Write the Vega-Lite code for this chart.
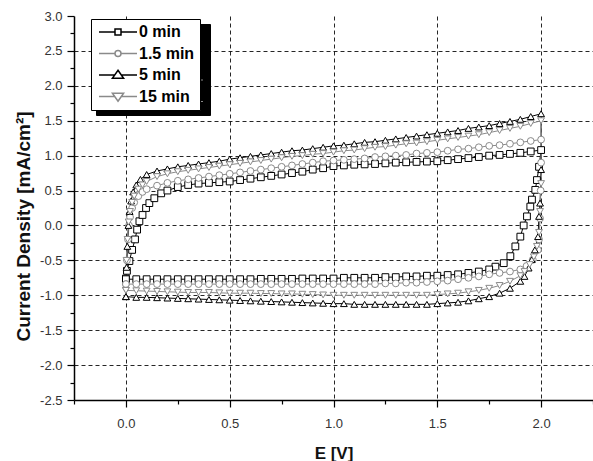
{
"$schema": "https://vega.github.io/schema/vega-lite/v6.json",
"width": 519, "height": 384,
"autosize": "none",
"padding": {"left": 74, "top": 16, "right": 0, "bottom": 61},
"background": "white",
"config": {"view": {"stroke": null}, "font": "Liberation Sans"},
"data": {"values": [
{"s":"0 min","E":0,"J":-0.76},{"s":"0 min","E":0.005,"J":-0.65},{"s":"0 min","E":0.017,"J":-0.51},{"s":"0 min","E":0.03,"J":-0.35},{"s":"0 min","E":0.044,"J":-0.2},{"s":"0 min","E":0.054,"J":-0.06},{"s":"0 min","E":0.065,"J":0.06},{"s":"0 min","E":0.08,"J":0.15},{"s":"0 min","E":0.097,"J":0.25},{"s":"0 min","E":0.113,"J":0.32},{"s":"0 min","E":0.137,"J":0.39},{"s":"0 min","E":0.17,"J":0.46},{"s":"0 min","E":0.2,"J":0.5},{"s":"0 min","E":0.25,"J":0.55},{"s":"0 min","E":0.3,"J":0.58},{"s":"0 min","E":0.35,"J":0.6},{"s":"0 min","E":0.4,"J":0.61},{"s":"0 min","E":0.45,"J":0.62},{"s":"0 min","E":0.5,"J":0.63},{"s":"0 min","E":0.55,"J":0.65},{"s":"0 min","E":0.6,"J":0.67},{"s":"0 min","E":0.65,"J":0.69},{"s":"0 min","E":0.7,"J":0.71},{"s":"0 min","E":0.75,"J":0.73},{"s":"0 min","E":0.8,"J":0.75},{"s":"0 min","E":0.85,"J":0.77},{"s":"0 min","E":0.9,"J":0.8},{"s":"0 min","E":0.95,"J":0.82},{"s":"0 min","E":1.0,"J":0.85},{"s":"0 min","E":1.05,"J":0.86},{"s":"0 min","E":1.1,"J":0.87},{"s":"0 min","E":1.15,"J":0.875},{"s":"0 min","E":1.2,"J":0.88},{"s":"0 min","E":1.25,"J":0.89},{"s":"0 min","E":1.3,"J":0.9},{"s":"0 min","E":1.35,"J":0.905},{"s":"0 min","E":1.4,"J":0.91},{"s":"0 min","E":1.45,"J":0.915},{"s":"0 min","E":1.5,"J":0.92},{"s":"0 min","E":1.55,"J":0.935},{"s":"0 min","E":1.6,"J":0.95},{"s":"0 min","E":1.65,"J":0.965},{"s":"0 min","E":1.7,"J":0.98},{"s":"0 min","E":1.75,"J":1.0},{"s":"0 min","E":1.8,"J":1.01},{"s":"0 min","E":1.85,"J":1.025},{"s":"0 min","E":1.9,"J":1.04},{"s":"0 min","E":1.95,"J":1.06},{"s":"0 min","E":2.0,"J":1.08},
{"s":"0 min","E":1.99,"J":0.84},{"s":"0 min","E":1.98,"J":0.65},{"s":"0 min","E":1.972,"J":0.51},{"s":"0 min","E":1.956,"J":0.37},{"s":"0 min","E":1.948,"J":0.27},{"s":"0 min","E":1.932,"J":0.13},{"s":"0 min","E":1.916,"J":0.0},{"s":"0 min","E":1.9,"J":-0.16},{"s":"0 min","E":1.876,"J":-0.3},{"s":"0 min","E":1.852,"J":-0.44},{"s":"0 min","E":1.82,"J":-0.54},{"s":"0 min","E":1.78,"J":-0.59},{"s":"0 min","E":1.75,"J":-0.63},{"s":"0 min","E":1.7,"J":-0.66},{"s":"0 min","E":1.65,"J":-0.68},{"s":"0 min","E":1.6,"J":-0.7},{"s":"0 min","E":1.55,"J":-0.71},{"s":"0 min","E":1.5,"J":-0.72},{"s":"0 min","E":1.45,"J":-0.72},{"s":"0 min","E":1.4,"J":-0.73},{"s":"0 min","E":1.35,"J":-0.73},{"s":"0 min","E":1.3,"J":-0.74},{"s":"0 min","E":1.25,"J":-0.74},{"s":"0 min","E":1.2,"J":-0.75},{"s":"0 min","E":1.15,"J":-0.75},{"s":"0 min","E":1.1,"J":-0.75},{"s":"0 min","E":1.05,"J":-0.75},{"s":"0 min","E":1.0,"J":-0.76},{"s":"0 min","E":0.95,"J":-0.76},{"s":"0 min","E":0.9,"J":-0.76},{"s":"0 min","E":0.85,"J":-0.76},{"s":"0 min","E":0.8,"J":-0.765},{"s":"0 min","E":0.75,"J":-0.765},{"s":"0 min","E":0.7,"J":-0.765},{"s":"0 min","E":0.65,"J":-0.765},{"s":"0 min","E":0.6,"J":-0.77},{"s":"0 min","E":0.55,"J":-0.77},{"s":"0 min","E":0.5,"J":-0.77},{"s":"0 min","E":0.45,"J":-0.77},{"s":"0 min","E":0.4,"J":-0.77},{"s":"0 min","E":0.35,"J":-0.77},{"s":"0 min","E":0.3,"J":-0.77},{"s":"0 min","E":0.25,"J":-0.77},{"s":"0 min","E":0.2,"J":-0.77},{"s":"0 min","E":0.15,"J":-0.77},{"s":"0 min","E":0.1,"J":-0.77},{"s":"0 min","E":0.05,"J":-0.77},{"s":"0 min","E":0.0,"J":-0.77},
{"s":"1.5 min","E":0,"J":-0.84},{"s":"1.5 min","E":0.005,"J":-0.5},{"s":"1.5 min","E":0.01,"J":-0.2},{"s":"1.5 min","E":0.015,"J":0.0},{"s":"1.5 min","E":0.02,"J":0.12},{"s":"1.5 min","E":0.03,"J":0.25},{"s":"1.5 min","E":0.04,"J":0.33},{"s":"1.5 min","E":0.06,"J":0.42},{"s":"1.5 min","E":0.08,"J":0.48},{"s":"1.5 min","E":0.1,"J":0.52},{"s":"1.5 min","E":0.15,"J":0.57},{"s":"1.5 min","E":0.2,"J":0.61},{"s":"1.5 min","E":0.25,"J":0.64},{"s":"1.5 min","E":0.3,"J":0.66},{"s":"1.5 min","E":0.35,"J":0.68},{"s":"1.5 min","E":0.4,"J":0.7},{"s":"1.5 min","E":0.45,"J":0.72},{"s":"1.5 min","E":0.5,"J":0.74},{"s":"1.5 min","E":0.55,"J":0.76},{"s":"1.5 min","E":0.6,"J":0.78},{"s":"1.5 min","E":0.65,"J":0.8},{"s":"1.5 min","E":0.7,"J":0.82},{"s":"1.5 min","E":0.75,"J":0.84},{"s":"1.5 min","E":0.8,"J":0.86},{"s":"1.5 min","E":0.85,"J":0.88},{"s":"1.5 min","E":0.9,"J":0.9},{"s":"1.5 min","E":0.95,"J":0.92},{"s":"1.5 min","E":1.0,"J":0.93},{"s":"1.5 min","E":1.05,"J":0.94},{"s":"1.5 min","E":1.1,"J":0.95},{"s":"1.5 min","E":1.15,"J":0.96},{"s":"1.5 min","E":1.2,"J":0.98},{"s":"1.5 min","E":1.25,"J":0.99},{"s":"1.5 min","E":1.3,"J":1.0},{"s":"1.5 min","E":1.35,"J":1.01},{"s":"1.5 min","E":1.4,"J":1.03},{"s":"1.5 min","E":1.45,"J":1.04},{"s":"1.5 min","E":1.5,"J":1.05},{"s":"1.5 min","E":1.55,"J":1.07},{"s":"1.5 min","E":1.6,"J":1.09},{"s":"1.5 min","E":1.65,"J":1.1},{"s":"1.5 min","E":1.7,"J":1.12},{"s":"1.5 min","E":1.75,"J":1.14},{"s":"1.5 min","E":1.8,"J":1.15},{"s":"1.5 min","E":1.85,"J":1.17},{"s":"1.5 min","E":1.9,"J":1.19},{"s":"1.5 min","E":1.95,"J":1.21},{"s":"1.5 min","E":2.0,"J":1.23},
{"s":"1.5 min","E":2.0,"J":0.9},{"s":"1.5 min","E":1.998,"J":0.5},{"s":"1.5 min","E":1.995,"J":0.1},{"s":"1.5 min","E":1.99,"J":-0.2},{"s":"1.5 min","E":1.985,"J":-0.35},{"s":"1.5 min","E":1.96,"J":-0.49},{"s":"1.5 min","E":1.93,"J":-0.58},{"s":"1.5 min","E":1.9,"J":-0.63},{"s":"1.5 min","E":1.85,"J":-0.66},{"s":"1.5 min","E":1.8,"J":-0.68},{"s":"1.5 min","E":1.75,"J":-0.7},{"s":"1.5 min","E":1.7,"J":-0.73},{"s":"1.5 min","E":1.65,"J":-0.75},{"s":"1.5 min","E":1.6,"J":-0.77},{"s":"1.5 min","E":1.55,"J":-0.79},{"s":"1.5 min","E":1.5,"J":-0.8},{"s":"1.5 min","E":1.45,"J":-0.81},{"s":"1.5 min","E":1.4,"J":-0.82},{"s":"1.5 min","E":1.35,"J":-0.82},{"s":"1.5 min","E":1.3,"J":-0.83},{"s":"1.5 min","E":1.25,"J":-0.83},{"s":"1.5 min","E":1.2,"J":-0.84},{"s":"1.5 min","E":1.15,"J":-0.84},{"s":"1.5 min","E":1.1,"J":-0.84},{"s":"1.5 min","E":1.05,"J":-0.84},{"s":"1.5 min","E":1.0,"J":-0.84},{"s":"1.5 min","E":0.95,"J":-0.84},{"s":"1.5 min","E":0.9,"J":-0.84},{"s":"1.5 min","E":0.85,"J":-0.84},{"s":"1.5 min","E":0.8,"J":-0.84},{"s":"1.5 min","E":0.75,"J":-0.84},{"s":"1.5 min","E":0.7,"J":-0.84},{"s":"1.5 min","E":0.65,"J":-0.84},{"s":"1.5 min","E":0.6,"J":-0.84},{"s":"1.5 min","E":0.55,"J":-0.84},{"s":"1.5 min","E":0.5,"J":-0.84},{"s":"1.5 min","E":0.45,"J":-0.84},{"s":"1.5 min","E":0.4,"J":-0.84},{"s":"1.5 min","E":0.35,"J":-0.84},{"s":"1.5 min","E":0.3,"J":-0.84},{"s":"1.5 min","E":0.25,"J":-0.84},{"s":"1.5 min","E":0.2,"J":-0.84},{"s":"1.5 min","E":0.15,"J":-0.84},{"s":"1.5 min","E":0.1,"J":-0.84},{"s":"1.5 min","E":0.05,"J":-0.84},{"s":"1.5 min","E":0.0,"J":-0.84},
{"s":"5 min","E":0,"J":-1.02},{"s":"5 min","E":0.003,"J":-0.6},{"s":"5 min","E":0.007,"J":-0.3},{"s":"5 min","E":0.012,"J":0.0},{"s":"5 min","E":0.018,"J":0.2},{"s":"5 min","E":0.025,"J":0.35},{"s":"5 min","E":0.035,"J":0.48},{"s":"5 min","E":0.05,"J":0.58},{"s":"5 min","E":0.07,"J":0.66},{"s":"5 min","E":0.1,"J":0.73},{"s":"5 min","E":0.15,"J":0.78},{"s":"5 min","E":0.2,"J":0.81},{"s":"5 min","E":0.25,"J":0.84},{"s":"5 min","E":0.3,"J":0.86},{"s":"5 min","E":0.35,"J":0.88},{"s":"5 min","E":0.4,"J":0.9},{"s":"5 min","E":0.45,"J":0.92},{"s":"5 min","E":0.5,"J":0.95},{"s":"5 min","E":0.55,"J":0.97},{"s":"5 min","E":0.6,"J":0.99},{"s":"5 min","E":0.65,"J":1.01},{"s":"5 min","E":0.7,"J":1.03},{"s":"5 min","E":0.75,"J":1.05},{"s":"5 min","E":0.8,"J":1.07},{"s":"5 min","E":0.85,"J":1.08},{"s":"5 min","E":0.9,"J":1.1},{"s":"5 min","E":0.95,"J":1.12},{"s":"5 min","E":1.0,"J":1.14},{"s":"5 min","E":1.05,"J":1.15},{"s":"5 min","E":1.1,"J":1.17},{"s":"5 min","E":1.15,"J":1.19},{"s":"5 min","E":1.2,"J":1.2},{"s":"5 min","E":1.25,"J":1.22},{"s":"5 min","E":1.3,"J":1.24},{"s":"5 min","E":1.35,"J":1.26},{"s":"5 min","E":1.4,"J":1.28},{"s":"5 min","E":1.45,"J":1.3},{"s":"5 min","E":1.5,"J":1.32},{"s":"5 min","E":1.55,"J":1.34},{"s":"5 min","E":1.6,"J":1.36},{"s":"5 min","E":1.65,"J":1.39},{"s":"5 min","E":1.7,"J":1.41},{"s":"5 min","E":1.75,"J":1.43},{"s":"5 min","E":1.8,"J":1.46},{"s":"5 min","E":1.85,"J":1.49},{"s":"5 min","E":1.9,"J":1.52},{"s":"5 min","E":1.95,"J":1.56},{"s":"5 min","E":2.0,"J":1.6},
{"s":"5 min","E":2.0,"J":0.8},{"s":"5 min","E":1.995,"J":0.32},{"s":"5 min","E":1.99,"J":0.13},{"s":"5 min","E":1.985,"J":-0.16},{"s":"5 min","E":1.97,"J":-0.35},{"s":"5 min","E":1.955,"J":-0.49},{"s":"5 min","E":1.94,"J":-0.61},{"s":"5 min","E":1.92,"J":-0.73},{"s":"5 min","E":1.9,"J":-0.8},{"s":"5 min","E":1.85,"J":-0.9},{"s":"5 min","E":1.8,"J":-0.97},{"s":"5 min","E":1.75,"J":-1.02},{"s":"5 min","E":1.7,"J":-1.05},{"s":"5 min","E":1.65,"J":-1.08},{"s":"5 min","E":1.6,"J":-1.1},{"s":"5 min","E":1.55,"J":-1.11},{"s":"5 min","E":1.5,"J":-1.12},{"s":"5 min","E":1.45,"J":-1.13},{"s":"5 min","E":1.4,"J":-1.13},{"s":"5 min","E":1.35,"J":-1.13},{"s":"5 min","E":1.3,"J":-1.13},{"s":"5 min","E":1.25,"J":-1.13},{"s":"5 min","E":1.2,"J":-1.13},{"s":"5 min","E":1.15,"J":-1.13},{"s":"5 min","E":1.1,"J":-1.13},{"s":"5 min","E":1.05,"J":-1.12},{"s":"5 min","E":1.0,"J":-1.12},{"s":"5 min","E":0.95,"J":-1.115},{"s":"5 min","E":0.9,"J":-1.11},{"s":"5 min","E":0.85,"J":-1.105},{"s":"5 min","E":0.8,"J":-1.1},{"s":"5 min","E":0.75,"J":-1.095},{"s":"5 min","E":0.7,"J":-1.09},{"s":"5 min","E":0.65,"J":-1.085},{"s":"5 min","E":0.6,"J":-1.08},{"s":"5 min","E":0.55,"J":-1.075},{"s":"5 min","E":0.5,"J":-1.07},{"s":"5 min","E":0.45,"J":-1.065},{"s":"5 min","E":0.4,"J":-1.06},{"s":"5 min","E":0.35,"J":-1.055},{"s":"5 min","E":0.3,"J":-1.05},{"s":"5 min","E":0.25,"J":-1.045},{"s":"5 min","E":0.2,"J":-1.04},{"s":"5 min","E":0.15,"J":-1.035},{"s":"5 min","E":0.1,"J":-1.03},{"s":"5 min","E":0.05,"J":-1.03},{"s":"5 min","E":0.0,"J":-1.02},
{"s":"15 min","E":0,"J":-0.93},{"s":"15 min","E":0.003,"J":-0.5},{"s":"15 min","E":0.008,"J":-0.2},{"s":"15 min","E":0.013,"J":0.05},{"s":"15 min","E":0.02,"J":0.2},{"s":"15 min","E":0.03,"J":0.33},{"s":"15 min","E":0.04,"J":0.42},{"s":"15 min","E":0.06,"J":0.52},{"s":"15 min","E":0.08,"J":0.58},{"s":"15 min","E":0.1,"J":0.63},{"s":"15 min","E":0.15,"J":0.7},{"s":"15 min","E":0.2,"J":0.74},{"s":"15 min","E":0.25,"J":0.77},{"s":"15 min","E":0.3,"J":0.79},{"s":"15 min","E":0.35,"J":0.81},{"s":"15 min","E":0.4,"J":0.83},{"s":"15 min","E":0.45,"J":0.85},{"s":"15 min","E":0.5,"J":0.87},{"s":"15 min","E":0.55,"J":0.89},{"s":"15 min","E":0.6,"J":0.91},{"s":"15 min","E":0.65,"J":0.93},{"s":"15 min","E":0.7,"J":0.95},{"s":"15 min","E":0.75,"J":0.97},{"s":"15 min","E":0.8,"J":0.99},{"s":"15 min","E":0.85,"J":1.0},{"s":"15 min","E":0.9,"J":1.02},{"s":"15 min","E":0.95,"J":1.03},{"s":"15 min","E":1.0,"J":1.05},{"s":"15 min","E":1.05,"J":1.07},{"s":"15 min","E":1.1,"J":1.08},{"s":"15 min","E":1.15,"J":1.1},{"s":"15 min","E":1.2,"J":1.12},{"s":"15 min","E":1.25,"J":1.13},{"s":"15 min","E":1.3,"J":1.15},{"s":"15 min","E":1.35,"J":1.17},{"s":"15 min","E":1.4,"J":1.18},{"s":"15 min","E":1.45,"J":1.2},{"s":"15 min","E":1.5,"J":1.22},{"s":"15 min","E":1.55,"J":1.24},{"s":"15 min","E":1.6,"J":1.26},{"s":"15 min","E":1.65,"J":1.28},{"s":"15 min","E":1.7,"J":1.3},{"s":"15 min","E":1.75,"J":1.33},{"s":"15 min","E":1.8,"J":1.36},{"s":"15 min","E":1.85,"J":1.39},{"s":"15 min","E":1.9,"J":1.42},{"s":"15 min","E":1.95,"J":1.46},{"s":"15 min","E":2.0,"J":1.5},
{"s":"15 min","E":2.0,"J":0.6},{"s":"15 min","E":1.995,"J":0.2},{"s":"15 min","E":1.99,"J":-0.1},{"s":"15 min","E":1.98,"J":-0.3},{"s":"15 min","E":1.965,"J":-0.45},{"s":"15 min","E":1.945,"J":-0.56},{"s":"15 min","E":1.92,"J":-0.66},{"s":"15 min","E":1.9,"J":-0.72},{"s":"15 min","E":1.85,"J":-0.8},{"s":"15 min","E":1.8,"J":-0.86},{"s":"15 min","E":1.75,"J":-0.9},{"s":"15 min","E":1.7,"J":-0.93},{"s":"15 min","E":1.65,"J":-0.95},{"s":"15 min","E":1.6,"J":-0.97},{"s":"15 min","E":1.55,"J":-0.98},{"s":"15 min","E":1.5,"J":-0.99},{"s":"15 min","E":1.45,"J":-1.0},{"s":"15 min","E":1.4,"J":-1.0},{"s":"15 min","E":1.35,"J":-1.0},{"s":"15 min","E":1.3,"J":-1.0},{"s":"15 min","E":1.25,"J":-1.0},{"s":"15 min","E":1.2,"J":-1.0},{"s":"15 min","E":1.15,"J":-1.0},{"s":"15 min","E":1.1,"J":-1.0},{"s":"15 min","E":1.05,"J":-1.0},{"s":"15 min","E":1.0,"J":-1.0},{"s":"15 min","E":0.95,"J":-0.995},{"s":"15 min","E":0.9,"J":-0.99},{"s":"15 min","E":0.85,"J":-0.985},{"s":"15 min","E":0.8,"J":-0.98},{"s":"15 min","E":0.75,"J":-0.98},{"s":"15 min","E":0.7,"J":-0.975},{"s":"15 min","E":0.65,"J":-0.975},{"s":"15 min","E":0.6,"J":-0.97},{"s":"15 min","E":0.55,"J":-0.97},{"s":"15 min","E":0.5,"J":-0.97},{"s":"15 min","E":0.45,"J":-0.965},{"s":"15 min","E":0.4,"J":-0.96},{"s":"15 min","E":0.35,"J":-0.96},{"s":"15 min","E":0.3,"J":-0.96},{"s":"15 min","E":0.25,"J":-0.955},{"s":"15 min","E":0.2,"J":-0.95},{"s":"15 min","E":0.15,"J":-0.945},{"s":"15 min","E":0.1,"J":-0.94},{"s":"15 min","E":0.05,"J":-0.935},{"s":"15 min","E":0.0,"J":-0.93}
]},
"encoding": {
  "x": {"field": "E", "type": "quantitative",
    "scale": {"domain": [-0.25, 2.25], "nice": false, "zero": false},
    "axis": {"title": "E [V]", "values": [-0.25,0,0.25,0.5,0.75,1,1.25,1.5,1.75,2,2.25],
      "labelExpr": "abs(datum.value*2 - round(datum.value*2)) < 0.001 ? replace(format(datum.value, '.1f'), '\u2212', '-') : ''",
      "labelOverlap": false, "labelFlush": false,
      "grid": true, "gridColor": "#000", "gridDash": [4, 3], "gridWidth": 1,
      "gridOpacity": {"condition": {"test": "abs(datum.value*2 - round(datum.value*2)) < 0.001", "value": 0.85}, "value": 0},
      "tickSize": {"condition": {"test": "abs(datum.value*2 - round(datum.value*2)) < 0.001", "value": 7}, "value": 4},
      "tickColor": "#000", "tickWidth": 1.2, "domainColor": "#000", "domainWidth": 1.5,
      "labelFontSize": 13, "labelColor": "#333", "labelPadding": 10,
      "titleFontSize": 17, "titleFontWeight": "bold", "titleColor": "#111", "titlePadding": 15}},
  "y": {"field": "J", "type": "quantitative",
    "scale": {"domain": [-2.5, 3.0], "nice": false, "zero": false},
    "axis": {"title": "Current Density [mA/cm²]",
      "values": [-2.5,-2.25,-2,-1.75,-1.5,-1.25,-1,-0.75,-0.5,-0.25,0,0.25,0.5,0.75,1,1.25,1.5,1.75,2,2.25,2.5,2.75,3],
      "labelExpr": "abs(datum.value*2 - round(datum.value*2)) < 0.001 ? replace(format(datum.value, '.1f'), '\u2212', '-') : ''",
      "labelOverlap": false, "labelFlush": false,
      "grid": true, "gridColor": "#000", "gridDash": [4, 3], "gridWidth": 1,
      "gridOpacity": {"condition": {"test": "abs(datum.value*2 - round(datum.value*2)) < 0.001 && datum.value > -2.4 && datum.value < 2.9", "value": 0.85}, "value": 0},
      "tickSize": {"condition": {"test": "abs(datum.value*2 - round(datum.value*2)) < 0.001", "value": 7}, "value": 4},
      "tickColor": "#000", "tickWidth": 1.2, "domainColor": "#000", "domainWidth": 1.5,
      "labelFontSize": 13, "labelColor": "#333", "labelPadding": 5,
      "titleFontSize": 19, "titleFontWeight": "bold", "titleColor": "#111", "titlePadding": 6, "titleY": 210}}
},
"resolve": {"scale": {"stroke": "independent", "shape": "independent"}},
"layer": [
  {"mark": {"type": "line", "strokeWidth": 1},
   "encoding": {
     "color": {"field": "s", "type": "nominal", "scale": {"domain": ["0 min","5 min","1.5 min","15 min"], "range": ["#000000","#000000","#8a8a8a","#8a8a8a"]},
       "legend": {"orient": "none", "legendX": 22, "legendY": 8, "title": null, "padding": 5,
         "strokeColor": "#000", "fillColor": "#000",
         "labelFont": "Liberation Sans", "labelFontSize": 16, "labelFontWeight": "bold", "labelColor": "#000",
         "labelExpr": "''",
         "symbolType": "M-4.75,0H20", "symbolSize": 64, "symbolStrokeWidth": 1, "symbolOpacity": 1, "symbolStrokeColor": "#000",
         "symbolOffset": 14, "labelOffset": 13, "rowPadding": 5.5}},
     "order": {"value": null}}},
  {"mark": {"type": "point", "filled": true, "fill": "white", "size": 46, "strokeWidth": 1, "opacity": 1},
   "encoding": {
     "stroke": {"field": "s", "type": "nominal", "scale": {"domain": ["1.5 min","0 min","5 min","15 min"], "range": ["#8a8a8a","#000000","#000000","#8a8a8a"]}, "legend": null},
     "shape": {"field": "s", "type": "nominal", "scale": {"domain": ["0 min","1.5 min","15 min","5 min"], "range": ["square","circle","triangle-down","triangle-up"]}, "legend": null}}},
  {"mark": {"type": "point", "filled": true, "fill": "white", "size": 10, "strokeWidth": 1, "opacity": 0},
   "encoding": {
     "stroke": {"field": "s", "type": "nominal", "scale": {"domain": ["0 min","1.5 min","5 min","15 min"], "range": ["#000000","#8a8a8a","#000000","#8a8a8a"]},
       "legend": {"orient": "none", "legendX": 17, "legendY": 3, "title": null, "padding": 5,
         "strokeColor": "#000", "fillColor": "#fff",
         "labelFont": "Liberation Sans", "labelFontSize": 16, "labelFontWeight": "bold", "labelColor": "#000",
         "symbolSize": 64, "symbolStrokeWidth": 1.5, "symbolOpacity": 1, "symbolFillColor": "#fff",
         "symbolOffset": 14, "labelOffset": 13, "rowPadding": 5.5}},
     "shape": {"field": "s", "type": "nominal", "scale": {"domain": ["0 min","1.5 min","5 min","15 min"],
       "range": ["M-4.75,0H-0.75M0.75,0H4.75M-0.75,-0.75H0.75V0.75H-0.75Z",
                 "M-4.75,0H-0.75M0.75,0H4.75M-0.75,0A0.75,0.75 0 1,0 0.75,0A0.75,0.75 0 1,0 -0.75,0Z",
                 "M-4.75,0H-0.8M0.8,0H4.75M0,-1.2L1.4,0.8H-1.4Z",
                 "M-4.75,0H-0.8M0.8,0H4.75M0,1.2L1.4,-0.8H-1.4Z"]},
       "legend": {"orient": "none", "legendX": 17, "legendY": 3, "title": null, "padding": 5,
         "strokeColor": "#000", "fillColor": "#fff",
         "labelFont": "Liberation Sans", "labelFontSize": 16, "labelFontWeight": "bold", "labelColor": "#000",
         "symbolSize": 64, "symbolStrokeWidth": 1.5, "symbolOpacity": 1, "symbolFillColor": "#fff",
         "symbolOffset": 14, "labelOffset": 13, "rowPadding": 5.5}}}}
]
}
